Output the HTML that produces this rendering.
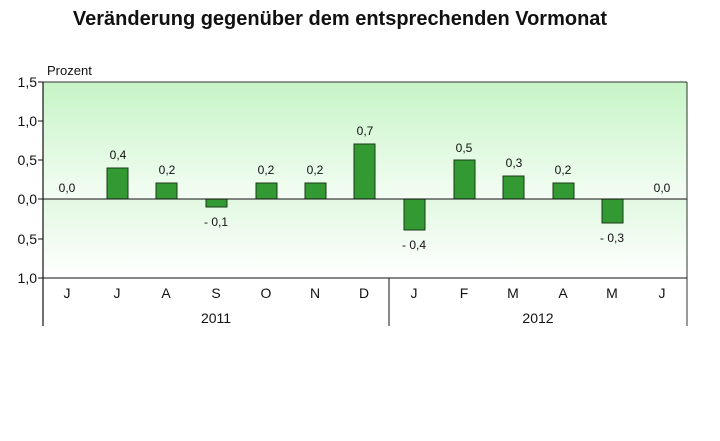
<!DOCTYPE html><html><head><style>body{margin:0;background:#fff}</style></head><body>
<svg width="720" height="436" xmlns="http://www.w3.org/2000/svg" font-family="Liberation Sans, Arial, sans-serif">
<defs>
<linearGradient id="g1" x1="0" y1="0" x2="0" y2="1"><stop offset="0" stop-color="#c6f4c6"/><stop offset="1" stop-color="#f4fdf4"/></linearGradient>
<linearGradient id="g2" x1="0" y1="0" x2="0" y2="1"><stop offset="0" stop-color="#e2f8e2"/><stop offset="1" stop-color="#ffffff"/></linearGradient>
</defs>
<text x="340" y="25" text-anchor="middle" font-size="20" font-weight="bold" fill="#111">Veränderung gegenüber dem entsprechenden Vormonat</text>
<text x="47" y="75" font-size="13" fill="#111">Prozent</text>
<rect x="43" y="82" width="644" height="117" fill="url(#g1)"/>
<rect x="43" y="199" width="644" height="79" fill="url(#g2)"/>
<line x1="43" y1="82" x2="687" y2="82" stroke="#333" stroke-width="1"/>
<line x1="687" y1="82" x2="687" y2="326" stroke="#333" stroke-width="1"/>
<line x1="43" y1="82" x2="43" y2="326" stroke="#111" stroke-width="1.2"/>
<line x1="43" y1="278" x2="687" y2="278" stroke="#111" stroke-width="1"/>
<line x1="389" y1="278" x2="389" y2="326" stroke="#111" stroke-width="1"/>
<g stroke="#111"><line x1="38" y1="82" x2="43" y2="82"/><line x1="38" y1="121" x2="43" y2="121"/><line x1="38" y1="160" x2="43" y2="160"/><line x1="38" y1="199" x2="43" y2="199"/><line x1="38" y1="239" x2="43" y2="239"/><line x1="38" y1="278" x2="43" y2="278"/></g>
<g font-size="14" fill="#111" text-anchor="end">
<text x="37" y="87">1,5</text><text x="37" y="126">1,0</text><text x="37" y="165">0,5</text><text x="37" y="204">0,0</text><text x="37" y="244">0,5</text><text x="37" y="283">1,0</text></g>
<g fill="#339933" stroke="#1a3a1a" stroke-width="1">
<rect x="107" y="168" width="21" height="31"/>
<rect x="156" y="183" width="21" height="16"/>
<rect x="206" y="199" width="21" height="8"/>
<rect x="256" y="183" width="21" height="16"/>
<rect x="305" y="183" width="21" height="16"/>
<rect x="354" y="144" width="21" height="55"/>
<rect x="404" y="199" width="21" height="31"/>
<rect x="454" y="160" width="21" height="39"/>
<rect x="503" y="176" width="21" height="23"/>
<rect x="553" y="183" width="21" height="16"/>
<rect x="602" y="199" width="21" height="24"/>
</g>
<line x1="43" y1="199" x2="687" y2="199" stroke="#111" stroke-width="1"/>
<g font-size="12" fill="#111" text-anchor="middle">
<text x="67" y="192">0,0</text><text x="118" y="159">0,4</text><text x="167" y="174">0,2</text><text x="216" y="226">- 0,1</text>
<text x="266" y="174">0,2</text><text x="315" y="174">0,2</text><text x="365" y="135">0,7</text><text x="414" y="249">- 0,4</text>
<text x="464" y="152">0,5</text><text x="514" y="167">0,3</text><text x="563" y="174">0,2</text><text x="612" y="242">- 0,3</text><text x="662" y="192">0,0</text></g>
<g font-size="14" fill="#111" text-anchor="middle">
<text x="67" y="298">J</text><text x="117" y="298">J</text><text x="166" y="298">A</text><text x="216" y="298">S</text><text x="266" y="298">O</text><text x="315" y="298">N</text><text x="364" y="298">D</text><text x="414" y="298">J</text><text x="464" y="298">F</text><text x="513" y="298">M</text><text x="563" y="298">A</text><text x="612" y="298">M</text><text x="662" y="298">J</text>
<text x="216" y="323">2011</text><text x="538" y="323">2012</text></g>
</svg>
</body></html>
